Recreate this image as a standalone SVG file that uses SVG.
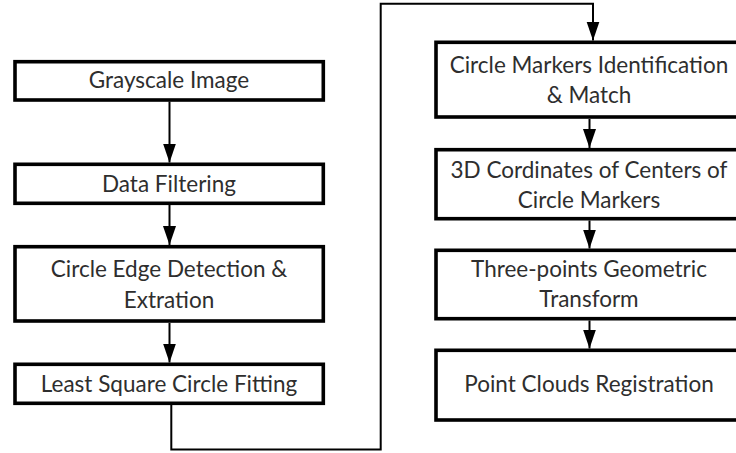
<svg xmlns="http://www.w3.org/2000/svg" width="736" height="453" viewBox="0 0 736 453">
<style>
.box{fill:#fff;stroke:#000;stroke-width:3.6}
.t{font-family:Lato,"Liberation Sans",sans-serif;font-size:22.5px;fill:#2e2e2e;text-anchor:middle}
.c{fill:none;stroke:#000;stroke-width:2}
</style>
<defs>
<marker id="ah" markerUnits="userSpaceOnUse" markerWidth="20" markerHeight="14" refX="19" refY="6.5" orient="auto">
<path d="M0,0 L19,6.5 L0,13 Z" fill="#000"/>
</marker>
</defs>
<g id="connectors">
<line class="c" x1="169.5" y1="101.5" x2="169.5" y2="162.5" marker-end="url(#ah)"/>
<line class="c" x1="169.5" y1="205" x2="169.5" y2="245" marker-end="url(#ah)"/>
<line class="c" x1="169.5" y1="323" x2="169.5" y2="362.5" marker-end="url(#ah)"/>
<polyline class="c" points="171.3,405 171.3,449.5 380.7,449.5 380.7,3.7 593,3.7 593,40.5" marker-end="url(#ah)"/>
<line class="c" x1="589.5" y1="119" x2="589.5" y2="148" marker-end="url(#ah)"/>
<line class="c" x1="589.5" y1="220.5" x2="589.5" y2="248.5" marker-end="url(#ah)"/>
<line class="c" x1="589.5" y1="320.5" x2="589.5" y2="348.5" marker-end="url(#ah)"/>
</g>
<g id="n1"><rect class="box" x="15" y="61.7" width="308.3" height="38.3"/><text class="t" x="169" y="88.3">Grayscale Image</text></g>
<g id="n2"><rect class="box" x="15" y="164.3" width="308.3" height="39"/><text class="t" x="169" y="192">Data Filtering</text></g>
<g id="n3"><rect class="box" x="15" y="246.7" width="308.3" height="74.3"/><text class="t" x="169" y="277.3">Circle Edge Detection &amp;</text><text class="t" x="169" y="308">Extration</text></g>
<g id="n4"><rect class="box" x="15" y="364.3" width="308.3" height="39"/><text class="t" x="169" y="391.5">Least Square Circle Fitting</text></g>
<g id="n5"><rect class="box" x="436" y="42.3" width="310" height="74.7"/><text class="t" x="589" y="73.3">Circle Markers Identification</text><text class="t" x="589" y="103.3">&amp; Match</text></g>
<g id="n6"><rect class="box" x="436" y="149.7" width="310" height="69"/><text class="t" x="589" y="177.5">3D Cordinates of Centers of</text><text class="t" x="589" y="207.5">Circle Markers</text></g>
<g id="n7"><rect class="box" x="436" y="250.3" width="310" height="68.4"/><text class="t" x="589" y="276.7">Three-points Geometric</text><text class="t" x="589" y="306.5">Transform</text></g>
<g id="n8"><rect class="box" x="436" y="350.3" width="310" height="69.7"/><text class="t" x="589" y="391.7">Point Clouds Registration</text></g>
</svg>
